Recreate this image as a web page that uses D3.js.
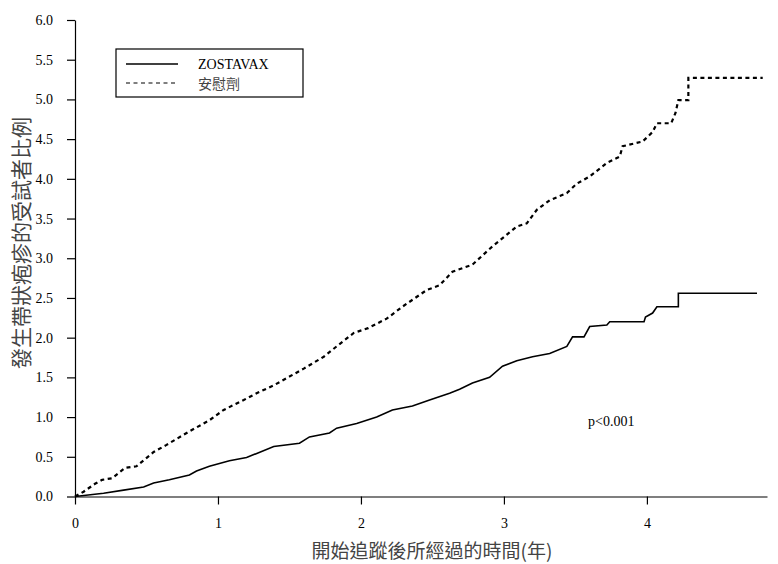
<!DOCTYPE html>
<html>
<head>
<meta charset="utf-8">
<script src="https://cdn.jsdelivr.net/npm/d3@7"></script>
<style>
  body { margin: 0; background: #fff; }
  svg { display: block; }
</style>
</head>
<body>
<svg id="chart" width="778" height="564"></svg>
<script>
// ---- data ----
const xTicks = [0, 1, 2, 3, 4];
const yTicks = [0, 0.5, 1, 1.5, 2, 2.5, 3, 3.5, 4, 4.5, 5, 5.5, 6];
const seriesNames = ["ZOSTAVAX", "安慰劑"];
const zostavaxT = [0, 0.2, 0.34, 0.48, 0.55, 0.66, 0.8, 0.85, 0.94, 1.08, 1.2, 1.39, 1.57, 1.64, 1.78, 1.83, 1.97, 2.11, 2.22, 2.36, 2.48, 2.62, 2.69, 2.78, 2.9, 2.99, 3.09, 3.2, 3.32, 3.44, 3.48, 3.56, 3.6, 3.72, 3.74, 3.98, 3.99, 4.04, 4.07, 4.22, 4.22, 4.77];
const zostavaxV = [0, 0.04, 0.08, 0.12, 0.17, 0.21, 0.27, 0.32, 0.38, 0.45, 0.49, 0.63, 0.67, 0.75, 0.8, 0.86, 0.92, 1.0, 1.09, 1.14, 1.215, 1.3, 1.35, 1.43, 1.5, 1.64, 1.71, 1.76, 1.8, 1.89, 2.01, 2.01, 2.14, 2.16, 2.2, 2.2, 2.26, 2.31, 2.39, 2.39, 2.56, 2.56];
const placeboT = [0, 0.06, 0.14, 0.19, 0.26, 0.35, 0.43, 0.55, 0.64, 0.8, 0.94, 1.04, 1.18, 1.27, 1.39, 1.48, 1.6, 1.74, 1.83, 1.95, 2.05, 2.18, 2.29, 2.46, 2.55, 2.64, 2.78, 2.92, 3.09, 3.16, 3.23, 3.32, 3.44, 3.51, 3.6, 3.72, 3.81, 3.83, 3.97, 4.04, 4.07, 4.17, 4.2, 4.22, 4.29, 4.29, 4.81];
const placeboV = [0, 0.06, 0.16, 0.21, 0.23, 0.36, 0.38, 0.56, 0.65, 0.82, 0.96, 1.09, 1.215, 1.3, 1.4, 1.49, 1.61, 1.76, 1.89, 2.06, 2.12, 2.24, 2.39, 2.6, 2.66, 2.83, 2.92, 3.15, 3.4, 3.44, 3.61, 3.73, 3.82, 3.94, 4.03, 4.2, 4.28, 4.41, 4.47, 4.59, 4.7, 4.7, 4.83, 4.99, 4.99, 5.27, 5.27];
const pText = "p<0.001";
const xTitle = "開始追蹤後所經過的時間(年)";
const yTitle = "發生帶狀疱疹的受試者比例";

// ---- chart ----
const svg = d3.select("#chart");
const serif = "'Liberation Serif', 'Times New Roman', serif";
const cjk = "'Noto Sans CJK TC', 'Noto Sans CJK SC', sans-serif";

const x = d3.scaleLinear().domain([0, 4.84]).range([75, 767]);
const y = d3.scaleLinear().domain([0, 6]).range([496.5, 20]);

const xAxis = svg.append("g")
  .attr("transform", `translate(0,${y(0)})`)
  .call(d3.axisBottom(x).tickValues(xTicks).tickFormat(d3.format("d")).tickSize(8).tickSizeOuter(0).tickPadding(14));
const yAxis = svg.append("g")
  .attr("transform", `translate(${x(0)},0)`)
  .call(d3.axisLeft(y).tickValues(yTicks).tickFormat(d3.format(".1f")).tickSize(8).tickSizeOuter(0).tickPadding(14));

[xAxis, yAxis].forEach(g => {
  g.selectAll("path, line").attr("stroke", "#000").attr("stroke-width", 1.2);
  g.selectAll("text").attr("font-family", serif).attr("font-size", 14).attr("fill", "#000");
});

const line = d3.line().x(d => x(d[0])).y(d => y(d[1]));
const zData = zostavaxT.map((t, i) => [t, zostavaxV[i]]);
const pData = placeboT.map((t, i) => [t, placeboV[i]]);

svg.append("path").datum(zData).attr("d", line)
  .attr("fill", "none").attr("stroke", "#000").attr("stroke-width", 1.6);
svg.append("path").datum(pData).attr("d", line)
  .attr("fill", "none").attr("stroke", "#000").attr("stroke-width", 2.2)
  .attr("stroke-dasharray", "4,3.5");

// legend
const lg = svg.append("g");
lg.append("rect").attr("x", 116).attr("y", 49).attr("width", 187).attr("height", 48)
  .attr("fill", "#fff").attr("stroke", "#000").attr("stroke-width", 1.2);
lg.append("line").attr("x1", 126).attr("x2", 178).attr("y1", 64).attr("y2", 64)
  .attr("stroke", "#000").attr("stroke-width", 1.6);
lg.append("line").attr("x1", 126).attr("x2", 178).attr("y1", 83).attr("y2", 83)
  .attr("stroke", "#000").attr("stroke-width", 1.2).attr("stroke-dasharray", "4,3.5");
lg.append("text").attr("x", 198).attr("y", 69).text(seriesNames[0])
  .attr("font-family", serif).attr("font-size", 14).attr("fill", "#000");
lg.append("text").attr("x", 198).attr("y", 89).text(seriesNames[1])
  .attr("font-family", cjk).attr("font-size", 14).attr("fill", "#444");

// p value
svg.append("text").attr("x", 588).attr("y", 426).text(pText)
  .attr("font-family", serif).attr("font-size", 14).attr("fill", "#000");

// axis titles
svg.append("text").attr("x", 432).attr("y", 558).attr("text-anchor", "middle")
  .text(xTitle).attr("font-family", cjk).attr("font-size", 19).attr("fill", "#444");
svg.append("text").attr("transform", "translate(29,243) rotate(-90)").attr("text-anchor", "middle")
  .text(yTitle).attr("font-family", cjk).attr("font-size", 21).attr("fill", "#444");
</script>
</body>
</html>
